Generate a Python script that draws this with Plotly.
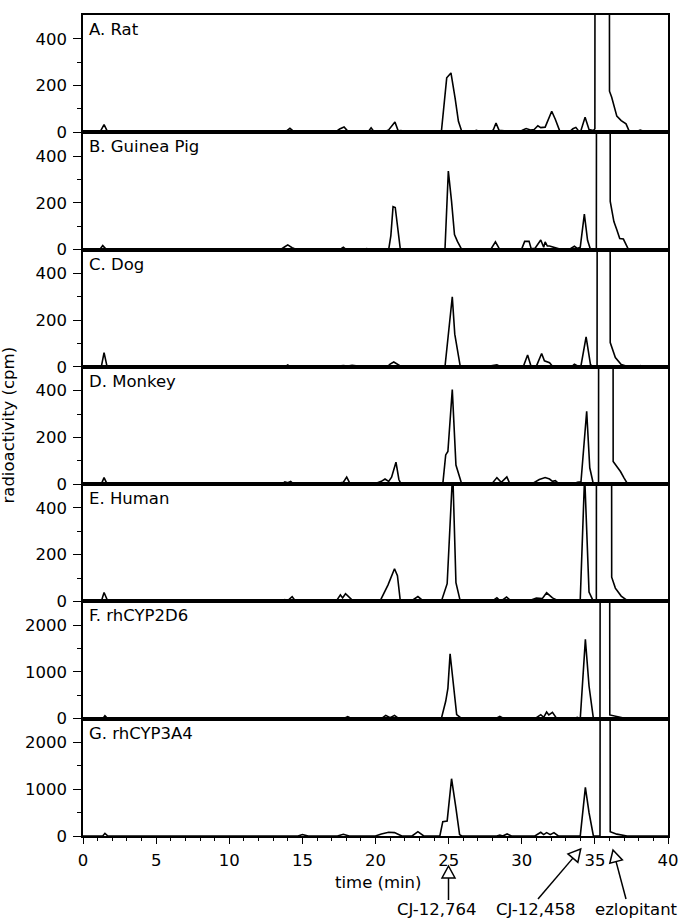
import math
import plotly.graph_objects as go
from plotly.subplots import make_subplots

# ---------------- data (time in min, radioactivity in cpm) ----------------
rat = [(0,0),(1.15,0),(1.44,33),(1.7,0),(9.3,0),(9.6,3),(9.9,0),(13.6,0),(13.9,5),(14.15,17),(14.4,4),(14.7,3),(15.1,0),
       (16.0,0),(16.3,3),(16.6,0),(17.3,3),(17.55,14),(17.85,23),(18.1,5),(18.5,3),(19.0,0),(19.5,2),(19.7,19),(19.9,2),
       (20.6,2),(20.9,10),(21.1,25),(21.33,44),(21.55,6),(21.75,7),(22.0,2),(23.0,0),(24.5,0),(24.87,233),(25.16,254),
       (25.44,147),(25.67,47),(25.9,3),(26.6,2),(26.9,8),(27.2,2),(27.9,2),(28.05,10),(28.24,40),(28.45,8),(28.8,6),
       (29.3,6),(29.6,3),(30.0,8),(30.3,16),(30.6,10),(30.85,12),(31.1,28),(31.3,20),(31.6,22),(32.05,90),(32.3,55),
       (32.6,5),(33.3,4),(33.5,15),(33.7,21),(33.9,5),(34.05,8),(34.33,64),(34.6,12),(34.9,8),(35.0,15),(35.05,5000),
       (35.95,5000),(36.0,176),(36.15,150),(36.5,69),(36.8,50),(37.13,36),(37.36,3),(37.9,4),(38.1,9),(38.4,3),(40,0)]

guinea_pig = [(0,0),(1.15,0),(1.35,17),(1.6,0),(5.0,0),(5.3,2),(5.6,0),(13.5,0),(13.8,12),(14.0,20),(14.3,8),(14.6,0),
       (16.4,0),(16.6,3),(16.9,0),(17.6,2),(17.8,10),(18.0,0),(19.2,0),(19.4,4),(19.6,0),(20.9,0),(21.05,60),(21.2,184),
       (21.35,180),(21.5,90),(21.7,0),(24.75,0),(24.98,336),(25.2,206),(25.4,64),(25.6,35),(25.9,0),(27.5,2),(27.9,3),
       (28.2,33),(28.5,0),(29.0,2),(29.5,3),(30.0,3),(30.2,35),(30.5,35),(30.65,3),(30.9,5),(31.3,41),(31.5,10),(31.6,33),
       (31.75,15),(31.9,15),(32.2,8),(32.6,2),(33.3,3),(33.6,14),(33.8,5),(34.0,10),(34.28,152),(34.5,40),(34.7,0),
       (35.1,0),(35.17,5000),(36.0,5000),(36.05,206),(36.3,120),(36.5,85),(36.7,47),(36.95,45),(37.3,0),(40,0)]

dog = [(0,0),(1.25,0),(1.44,61),(1.65,0),(12.0,0),(12.4,3),(12.8,0),(13.8,0),(14.0,8),(14.2,0),(17.0,0),(17.5,3),
       (17.8,6),(18.1,4),(18.4,7),(18.8,3),(19.2,0),(20.8,0),(21.0,12),(21.25,21),(21.5,12),(21.8,0),(22.3,3),(22.6,0),
       (24.75,0),(24.95,110),(25.25,300),(25.42,140),(25.8,0),(27.5,0),(28.3,9),(28.6,0),(30.1,0),(30.4,51),(30.65,0),
       (31.0,3),(31.36,57),(31.55,26),(31.9,18),(32.1,3),(32.3,0),(33.4,0),(33.6,11),(33.85,3),(34.05,5),(34.4,128),
       (34.7,10),(34.85,0),(35.15,0),(35.2,5000),(36.0,5000),(36.05,104),(36.4,40),(36.8,10),(37.3,0),(38.0,2),
       (38.1,5),(38.3,0),(40,0)]

monkey = [(0,0),(1.25,0),(1.44,28),(1.65,0),(13.6,0),(13.8,10),(14.0,6),(14.2,12),(14.4,0),(16.0,0),(16.5,3),(17.0,2),
       (17.5,5),(17.8,8),(18.03,30),(18.25,3),(19.0,2),(19.5,4),(20.0,3),(20.4,12),(20.65,22),(20.9,12),(21.1,30),
       (21.4,94),(21.6,20),(21.75,0),(24.6,0),(24.8,125),(24.95,140),(25.25,405),(25.5,82),(25.9,0),(27.0,2),(27.5,3),
       (28.0,5),(28.3,28),(28.6,8),(28.98,31),(29.2,0),(30.0,3),(30.8,5),(31.2,20),(31.6,28),(31.9,22),(32.1,12),
       (32.3,15),(32.5,3),(32.8,0),(33.5,0),(33.8,8),(34.05,10),(34.44,312),(34.65,70),(34.9,0),(35.25,0),(35.3,5000),
       (36.2,5000),(36.25,97),(36.75,54),(37.0,26),(37.25,0),(40,0)]

human = [(0,0),(1.25,0),(1.44,38),(1.7,0),(13.5,0),(13.8,8),(14.0,4),(14.3,20),(14.55,0),(17.3,0),(17.6,28),(17.75,15),
       (17.95,33),(18.5,0),(19.0,2),(20.0,2),(20.3,0),(20.85,70),(21.3,140),(21.5,110),(21.7,0),(22.4,0),(22.9,21),
       (23.3,0),(24.5,0),(24.9,76),(25.28,560),(25.5,80),(25.8,0),(26.6,2),(27.3,3),(28.0,2),(28.3,16),(28.55,0),
       (28.96,19),(29.3,0),(30.5,3),(31.0,14),(31.4,12),(31.7,37),(32.1,15),(32.6,0),(33.7,3),(34.0,8),(34.3,540),
       (34.6,40),(34.9,0),(35.1,0),(35.15,5000),(36.1,5000),(36.15,104),(36.4,57),(36.8,23),(37.3,0),(40,0)]

rhcyp2d6 = [(0,0),(1.35,0),(1.5,65),(1.7,0),(14.8,0),(15.0,20),(15.3,0),(17.8,0),(18.1,43),(18.4,0),(20.4,0),(20.7,72),
       (21.0,20),(21.3,72),(21.6,0),(24.5,0),(24.8,373),(24.95,650),(25.1,1391),(25.3,800),(25.55,90),(25.9,0),(28.2,0),
       (28.5,50),(28.8,0),(30.9,0),(31.3,86),(31.5,30),(31.7,143),(31.85,80),(32.1,136),(32.4,0),(33.5,0),(33.8,30),
       (34.0,0),(34.35,1699),(34.6,700),(34.9,0),(35.35,0),(35.42,20000),(35.98,20000),(36.02,80),(36.5,50),(37.2,0),(40,0)]

rhcyp3a4 = [(0,0),(1.35,0),(1.5,57),(1.7,0),(14.7,0),(15.0,30),(15.4,0),(17.4,0),(17.8,36),(18.2,0),(20.0,0),(20.4,43),
       (20.9,79),(21.3,72),(21.8,0),(22.5,0),(22.9,93),(23.3,0),(24.4,0),(24.6,308),(24.9,322),(25.2,1226),(25.5,595),
       (25.75,30),(25.9,0),(28.3,0),(28.5,20),(28.7,0),(29.0,43),(29.3,0),(30.9,0),(31.3,79),(31.5,30),(31.7,72),
       (31.95,30),(32.2,72),(32.5,0),(34.0,0),(34.35,1039),(34.6,500),(34.9,0),(35.35,0),(35.42,20000),(36.0,20000),
       (36.05,93),(36.5,40),(37.2,0),(40,0)]

panels = [rat, guinea_pig, dog, monkey, human, rhcyp2d6, rhcyp3a4]
panel_labels = ["A. Rat", "B. Guinea Pig", "C. Dog", "D. Monkey", "E. Human", "F. rhCYP2D6", "G. rhCYP3A4"]
y_max = [502, 502, 502, 502, 502, 2510, 2510]
y_major = [[0, 200, 400]] * 5 + [[0, 1000, 2000]] * 2
y_minor = [[100, 300]] * 5 + [[500, 1500]] * 2
x_major = list(range(0, 41, 5))
marker_labels = ["CJ-12,764", "CJ-12,458", "ezlopitant"]

FONT = "DejaVu Sans, Liberation Sans, Arial"
FS = 16.5
W, H = 680, 923
L, R, T = 83, 12, 15
BOTTOM = 836                 # page y of the lowest x axis
B = H - BOTTOM
PW, PH = W - L - R, BOTTOM - T

fig = make_subplots(rows=7, cols=1, shared_xaxes=True, vertical_spacing=0)

for i, pts in enumerate(panels):
    t = [p[0] for p in pts]
    v = [p[1] for p in pts]
    fig.add_trace(go.Scatter(x=t, y=v, mode="lines", line=dict(color="black", width=1.6),
                             showlegend=False, hoverinfo="skip"), row=i + 1, col=1)
    fig.update_yaxes(range=[0, y_max[i]], tickvals=y_major[i], ticks="outside", ticklen=8, tickwidth=1.3,
                     tickcolor="black", showline=True, mirror=True, linecolor="black", linewidth=1.5,
                     showgrid=False, zeroline=False, ticklabelstandoff=3, automargin=False,
                     minor=dict(tickvals=y_minor[i], ticks="outside", ticklen=4, tickwidth=1.3, tickcolor="black"),
                     tickfont=dict(family=FONT, size=FS, color="black"), row=i + 1, col=1)
    last = (i == 6)
    fig.update_xaxes(range=[0, 40], showline=True, mirror=True, linecolor="black", linewidth=1.5,
                     showgrid=False, zeroline=False, automargin=False,
                     ticks="outside" if last else "", tickvals=x_major, ticklen=6, tickwidth=1.3, tickcolor="black",
                     showticklabels=last, ticklabelstandoff=2,
                     minor=dict(dtick=1, ticks="outside" if last else "", ticklen=3, tickwidth=1.2, tickcolor="black"),
                     tickfont=dict(family=FONT, size=FS, color="black"), row=i + 1, col=1)

def px_to_paper(px, py):
    return ((px - L) / PW, (BOTTOM - py) / PH)

annotations = []
for i, lab in enumerate(panel_labels):
    top = 1 - i / 7
    annotations.append(dict(text=lab, xref="paper", yref="paper", x=0.007, y=top, xanchor="left", yanchor="top",
                            yshift=-3, showarrow=False, font=dict(family=FONT, size=FS, color="black")))

ax, ay = px_to_paper(8, 425)
annotations.append(dict(text="radioactivity (cpm)", xref="paper", yref="paper", x=ax, y=0.5, textangle=-90,
                        xanchor="center", yanchor="middle", showarrow=False,
                        font=dict(family=FONT, size=FS, color="black")))
tx, ty = px_to_paper(378, 882)
annotations.append(dict(text="time (min)", xref="paper", yref="paper", x=tx, y=ty, xanchor="center",
                        yanchor="middle", showarrow=False, font=dict(family=FONT, size=FS, color="black")))

label_px = [437, 536, 636]
for lab, lx in zip(marker_labels, label_px):
    mx, my = px_to_paper(lx, 909)
    annotations.append(dict(text=lab, xref="paper", yref="paper", x=mx, y=my, xanchor="center",
                            yanchor="middle", showarrow=False, font=dict(family=FONT, size=FS, color="black")))

# open-triangle arrows (tip, tail) in page pixels
arrows = [((448.5, 866), (448.5, 900)), ((580.7, 849), (538, 899)), ((613, 850), (626, 899))]
shapes = []
for (tipx, tipy), (tlx, tly) in arrows:
    dx, dy = tipx - tlx, tipy - tly
    n = math.hypot(dx, dy)
    ux, uy = dx / n, dy / n
    hl, hw = 12, 6.5
    bx, by = tipx - hl * ux, tipy - hl * uy
    nx, ny = -uy, ux
    c1 = (bx + hw * nx, by + hw * ny)
    c2 = (bx - hw * nx, by - hw * ny)
    p_tip = px_to_paper(tipx, tipy)
    p1 = px_to_paper(*c1)
    p2 = px_to_paper(*c2)
    pb = px_to_paper(bx, by)
    pt = px_to_paper(tlx, tly)
    shapes.append(dict(type="line", xref="paper", yref="paper", x0=pt[0], y0=pt[1], x1=pb[0], y1=pb[1],
                       line=dict(color="black", width=1.5)))
    shapes.append(dict(type="path", xref="paper", yref="paper",
                       path=f"M {p_tip[0]},{p_tip[1]} L {p1[0]},{p1[1]} L {p2[0]},{p2[1]} Z",
                       fillcolor="white", line=dict(color="black", width=1.5)))

fig.update_layout(width=W, height=H, margin=dict(l=L, r=R, t=T, b=B), plot_bgcolor="white",
                  paper_bgcolor="white", annotations=annotations, shapes=shapes, showlegend=False)

fig.write_html("out.html")
